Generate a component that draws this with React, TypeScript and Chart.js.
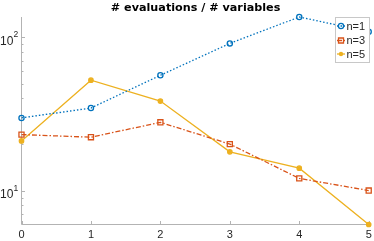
import React, { useEffect, useRef } from "react";
import { Chart, registerables } from "chart.js";

Chart.register(...registerables);

const categories = [0, 1, 2, 3, 4, 5];
const seriesN1 = [29.8, 34.6, 56.6, 91.4, 136, 109];
const seriesN3 = [23.2, 22.3, 27.9, 20.1, 12.0, 10.0];
const seriesN5 = [21.1, 52.6, 38.4, 17.9, 14.0, 6.0];
const seriesLabels = ["n=1", "n=3", "n=5"];
const yMajorTicks = [10, 100];
const yMinorTicks = [7, 8, 9, 20, 30, 40, 50, 60, 70, 80, 90];
const titleText = "# evaluations / # variables";

const BLUE = "#0072BD";
const ORANGE = "#D95319";
const YELLOW = "#EDB120";
const AXIS = "#b3b3b3";
const TEXT = "#262626";
const FONT = "'Liberation Sans', Arial, Helvetica, sans-serif";
const TITLE_FONT = "'DejaVu Sans', sans-serif";

function drawMarker(ctx: CanvasRenderingContext2D, style: string, x: number, y: number, color: string) {
  ctx.save();
  ctx.setLineDash([]);
  ctx.lineWidth = 1.3;
  ctx.strokeStyle = color;
  ctx.fillStyle = color;
  if (style === "circle") {
    ctx.beginPath();
    ctx.arc(x, y, 2.6, 0, Math.PI * 2);
    ctx.stroke();
  } else if (style === "rect") {
    ctx.beginPath();
    ctx.rect(x - 2.5, y - 2.5, 5, 5);
    ctx.stroke();
  } else {
    ctx.beginPath();
    ctx.arc(x, y, 2.2, 0, Math.PI * 2);
    ctx.fill();
  }
  ctx.restore();
}

const decorPlugin = {
  id: "decor",
  beforeDatasetsDraw(chart: any) {
    const ctx: CanvasRenderingContext2D = chart.ctx;
    const { left, right, top, bottom } = chart.chartArea;
    const xs = chart.scales.x;
    const ys = chart.scales.y;
    ctx.save();
    ctx.strokeStyle = AXIS;
    ctx.lineWidth = 1;
    ctx.beginPath();
    ctx.moveTo(left, top);
    ctx.lineTo(left, bottom);
    ctx.lineTo(right, bottom);
    ctx.stroke();
    ctx.beginPath();
    categories.forEach((c) => {
      const px = Math.round(xs.getPixelForValue(c)) + 0.5;
      ctx.moveTo(px, bottom);
      ctx.lineTo(px, bottom - 3.5);
    });
    yMajorTicks.forEach((v) => {
      const py = Math.round(ys.getPixelForValue(v)) + 0.5;
      ctx.moveTo(left, py);
      ctx.lineTo(left + 3.5, py);
    });
    yMinorTicks.forEach((v) => {
      const py = Math.round(ys.getPixelForValue(v)) + 0.5;
      ctx.moveTo(left, py);
      ctx.lineTo(left + 2, py);
    });
    ctx.stroke();

    ctx.fillStyle = TEXT;
    ctx.font = `11px ${FONT}`;
    ctx.textAlign = "center";
    ctx.textBaseline = "alphabetic";
    categories.forEach((c) => {
      ctx.fillText(String(c), xs.getPixelForValue(c), bottom + 13.5);
    });
    yMajorTicks.forEach((v) => {
      const py = ys.getPixelForValue(v);
      const exp = Math.round(Math.log10(v));
      ctx.font = `12px ${FONT}`;
      ctx.textAlign = "left";
      ctx.fillText("10", 0, py + 7.5);
      ctx.font = `8.5px ${FONT}`;
      ctx.fillText(String(exp), 13.5, py);
    });

    ctx.font = `bold 11.2px ${TITLE_FONT}`;
    ctx.textAlign = "center";
    ctx.fillStyle = "#000";
    ctx.fillText(titleText, (left + right) / 2 + 0.5, 10.5);
    ctx.restore();
  },
  afterDraw(chart: any) {
    const ctx: CanvasRenderingContext2D = chart.ctx;
    const bx = 335.5, by = 17.5, bw = 34, bh = 45;
    ctx.save();
    ctx.fillStyle = "#fff";
    ctx.fillRect(bx, by, bw, bh);
    ctx.strokeStyle = "#c8c8c8";
    ctx.lineWidth = 1;
    ctx.strokeRect(bx, by, bw, bh);
    const rows = [26, 40.5, 54];
    chart.data.datasets.forEach((ds: any, i: number) => {
      const y = rows[i];
      ctx.strokeStyle = ds.borderColor;
      ctx.lineWidth = 1.3;
      ctx.setLineDash(ds.borderDash || []);
      ctx.beginPath();
      ctx.moveTo(337, y);
      ctx.lineTo(345, y);
      ctx.stroke();
      drawMarker(ctx, ds.pointStyle, 341, y, ds.borderColor);
      ctx.fillStyle = TEXT;
      ctx.font = `11px ${FONT}`;
      ctx.textAlign = "left";
      ctx.textBaseline = "middle";
      ctx.fillText(ds.label, 346.5, y + 0.5);
    });
    ctx.restore();
  },
};

export default function App() {
  const ref = useRef<HTMLCanvasElement>(null);
  useEffect(() => {
    if (!ref.current) return;
    const mk = (label: string, data: number[], color: string, dash: number[], style: string) => ({
      label,
      data: categories.map((c, i) => ({ x: c, y: data[i] })),
      borderColor: color,
      backgroundColor: style === "circle" || style === "rect" ? "rgba(0,0,0,0)" : color,
      borderWidth: 1.3,
      borderDash: dash,
      pointStyle: style,
      pointRadius: style === "rect" ? 3.6 : style === "circle" ? 2.6 : 2.2,
      pointBorderWidth: 1.3,
      pointBorderColor: color,
      pointBackgroundColor: style === "circle" || style === "rect" ? "rgba(0,0,0,0)" : color,
      tension: 0,
      clip: false as any,
      fill: false,
    });
    const chart = new Chart(ref.current, {
      type: "line",
      data: {
        datasets: [
          mk(seriesLabels[0], seriesN1, BLUE, [1.5, 2], "circle"),
          mk(seriesLabels[1], seriesN3, ORANGE, [5, 2, 1.5, 2], "rect"),
          mk(seriesLabels[2], seriesN5, YELLOW, [], "circle_filled"),
        ],
      },
      options: {
        animation: false,
        responsive: false,
        events: [],
        layout: { padding: { left: 0, top: 17, right: 4, bottom: 0 } },
        plugins: { legend: { display: false }, title: { display: false }, tooltip: { enabled: false } },
        scales: {
          x: {
            type: "linear",
            min: 0,
            max: 5,
            grid: { display: false },
            border: { display: false },
            ticks: { display: false },
            afterFit: (s: any) => {
              s.height = 16.5;
              s.paddingLeft = 0;
              s.paddingRight = 0;
            },
          },
          y: {
            type: "logarithmic",
            min: 6,
            max: 136,
            grid: { display: false },
            border: { display: false },
            ticks: { display: false },
            afterFit: (s: any) => {
              s.width = 21.5;
              s.paddingTop = 0;
              s.paddingBottom = 0;
            },
          },
        },
      },
      plugins: [decorPlugin],
    });
    return () => chart.destroy();
  }, []);
  return (
    <div style={{ position: "fixed", left: 0, top: 0, width: 374, height: 241, background: "#fff" }}>
      <canvas ref={ref} width={374} height={241} style={{ width: 374, height: 241, display: "block" }} />
    </div>
  );
}
